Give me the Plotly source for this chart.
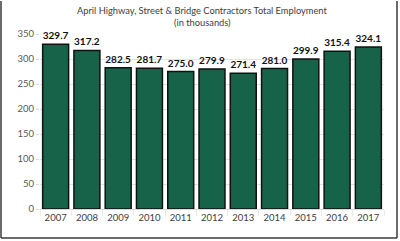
import plotly.graph_objects as go

years = ["2007", "2008", "2009", "2010", "2011", "2012", "2013", "2014", "2015", "2016", "2017"]
employment = [329.7, 317.2, 282.5, 281.7, 275.0, 279.9, 271.4, 281.0, 299.9, 315.4, 324.1]
y_ticks = [0, 50, 100, 150, 200, 250, 300, 350]

W, H = 400, 241
L, R, T, B = 40, 16, 34, 32
pw, ph = W - L - R, H - T - B

def px(x):
    return (x - L) / pw

def py(y):
    return (H - B - y) / ph

fig = go.Figure(go.Bar(
    x=years, y=employment,
    marker=dict(color="#17634A", line=dict(color="#111111", width=1.5)),
    text=[f"{v:.1f}" for v in employment],
    textposition="outside",
    textfont=dict(family="Lato", size=10, color="#111111", weight="bold"),
    cliponaxis=False,
))

shapes = []
for (x0, y0, x1, y1) in [(1, 1, 1, 238), (1, 238, 397, 238), (397, 1, 397, 238)]:
    shapes.append(dict(type="line", xref="paper", yref="paper",
                       x0=px(x0), y0=py(y0), x1=px(x1), y1=py(y1),
                       line=dict(color="#3a3a3a", width=1.5)))

annotations = [
    dict(text="April Highway, Street & Bridge Contractors Total Employment",
         xref="paper", yref="paper", x=px(202), y=py(11), xanchor="center", yanchor="middle",
         showarrow=False, font=dict(family="Lato", size=9.3, color="#404040")),
    dict(text="(in thousands)",
         xref="paper", yref="paper", x=px(202), y=py(23), xanchor="center", yanchor="middle",
         showarrow=False, font=dict(family="Lato", size=9.3, color="#404040")),
]

fig.update_layout(
    width=W, height=H,
    margin=dict(l=L, r=R, t=T, b=B, autoexpand=False),
    paper_bgcolor="white", plot_bgcolor="white",
    showlegend=False,
    xaxis=dict(tickfont=dict(family="Lato", size=9.5, color="#404040"), tickangle=0,
               automargin=False,
               showgrid=False, showline=True, linecolor="#d9d9d9", ticks="outside",
               tickcolor="#ebebeb", ticklen=6, tickson="boundaries"),
    yaxis=dict(range=[0, 350], tickvals=y_ticks, automargin=False,
               tickfont=dict(family="Lato", size=9.5, color="#595959"),
               showgrid=True, gridcolor="#e3e3e3", gridwidth=1, zeroline=False,
               ticks="outside", tickcolor="#d9d9d9", ticklen=3),
    bargap=0.17,
    shapes=shapes,
    annotations=annotations,
)

fig.write_html("out.html")
